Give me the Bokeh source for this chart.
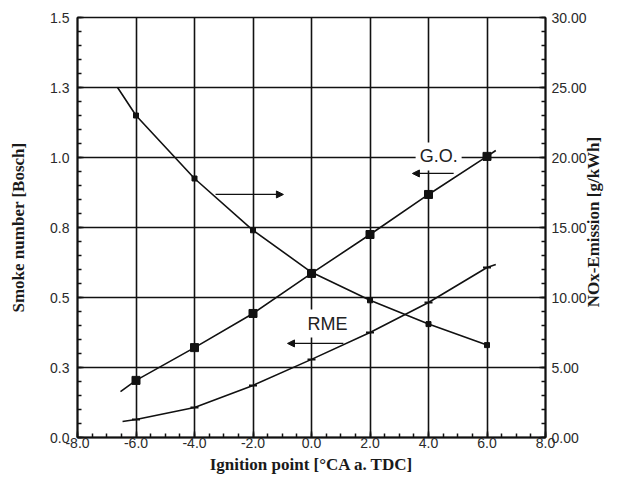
import math
import numpy as np
from bokeh.plotting import figure
from bokeh.models import (Range1d, LinearAxis, FixedTicker, Arrow, NormalHead, Label,
                          PrintfTickFormatter)
from bokeh.embed import file_html
from bokeh.resources import INLINE

# ---- data ----
ignition = [-6.0, -4.0, -2.0, 0.0, 2.0, 4.0, 6.0]
go_smoke = [0.204, 0.321, 0.443, 0.586, 0.725, 0.868, 1.004]
rme_smoke = [0.064, 0.107, 0.186, 0.279, 0.375, 0.482, 0.607]
nox = [23.0, 18.5, 14.8, 11.8, 9.8, 8.1, 6.6]

# curve extents (the drawn curves run a little past the measured points)
go_line_x = [-6.53, -6.0, -4.0, -2.0, 0.0, 2.0, 4.0, 6.0, 6.3]
go_line_y = [0.164, 0.204, 0.321, 0.443, 0.586, 0.725, 0.868, 1.004, 1.025]
rme_line_x = [-6.46, -6.0, -4.0, -2.0, 0.0, 2.0, 4.0, 6.0, 6.3]
rme_line_y = [0.057, 0.064, 0.107, 0.186, 0.279, 0.375, 0.482, 0.607, 0.618]
nox_line_x = [-6.63, -6.0, -4.0, -2.0, 0.0, 2.0, 4.0, 6.0]
nox_line_y = [25.0, 23.0, 18.5, 14.8, 11.8, 9.8, 8.1, 6.6]

x_ticks = [-8.0, -6.0, -4.0, -2.0, 0.0, 2.0, 4.0, 6.0, 8.0]
smoke_ticks = [0.0, 0.25, 0.5, 0.75, 1.0, 1.25, 1.5]
smoke_tick_labels = ["0.0", "0.3", "0.5", "0.8", "1.0", "1.3", "1.5"]
nox_ticks = [0.0, 5.0, 10.0, 15.0, 20.0, 25.0, 30.0]

NOX_TITLE = "NOx-Emission [g/kWh]"
NOX_TITLE_START = 9.3   # where the bottom-to-top right-hand title starts (NOx units)

LINE = "#111111"
TICK_FONT = "Liberation Sans"
LABEL_FONT = "Liberation Serif"

p = figure(width=615, height=478, output_backend="svg", toolbar_location=None,
           x_range=Range1d(-8, 8), y_range=Range1d(0, 1.5),
           min_border_left=77, min_border_right=70, min_border_top=17, min_border_bottom=41)
p.background_fill_color = "white"
p.border_fill_color = "white"
p.outline_line_color = LINE
p.outline_line_width = 1.5

p.extra_y_ranges = {"nox": Range1d(0, 30)}

# grids
p.xgrid.ticker = FixedTicker(ticks=x_ticks)
p.ygrid.ticker = FixedTicker(ticks=smoke_ticks)
for g in (p.xgrid, p.ygrid):
    g.grid_line_color = LINE
    g.grid_line_width = 1.6

def style_axis(ax):
    ax.axis_line_color = LINE
    ax.axis_line_width = 2
    ax.major_tick_line_color = LINE
    ax.minor_tick_line_color = LINE
    ax.major_tick_in = 6
    ax.major_tick_out = 0
    ax.minor_tick_in = 4
    ax.minor_tick_out = 0
    ax.major_tick_line_width = 1.5
    ax.minor_tick_line_width = 1.5
    ax.major_label_text_font = TICK_FONT
    ax.major_label_text_font_size = "14px"
    ax.major_label_text_color = "#2a2a2a"
    ax.axis_label_text_font = LABEL_FONT
    ax.axis_label_text_font_style = "bold"
    ax.axis_label_text_font_size = "17px"
    ax.axis_label_text_color = "#1a1a1a"

# x axis
xa = p.xaxis[0]
xa.ticker = FixedTicker(ticks=x_ticks, minor_ticks=list(np.arange(-8, 8.01, 0.5)))
xa.formatter = PrintfTickFormatter(format="%.1f")
xa.axis_label = "Ignition point [°CA a. TDC]"
style_axis(xa)
xa.major_label_standoff = 0
xa.axis_label_standoff = 4

# left axis
ya = p.yaxis[0]
ya.ticker = FixedTicker(ticks=smoke_ticks, minor_ticks=list(np.arange(0, 1.501, 0.05)))
ya.major_label_overrides = {t: s for t, s in zip(smoke_ticks, smoke_tick_labels)}
ya.axis_label = "Smoke number [Bosch]"
style_axis(ya)
ya.major_label_standoff = 8
ya.axis_label_standoff = 19

# right axis (numbers)
ra = LinearAxis(y_range_name="nox",
                ticker=FixedTicker(ticks=nox_ticks, minor_ticks=list(np.arange(0, 30.01, 1.0))),
                formatter=PrintfTickFormatter(format="%.2f"))
style_axis(ra)
ra.major_label_standoff = 6
p.add_layout(ra, "right")

# right axis title, reading bottom-to-top like the reference
ta = LinearAxis(y_range_name="nox", ticker=FixedTicker(ticks=[NOX_TITLE_START], minor_ticks=[]),
                major_label_overrides={NOX_TITLE_START: NOX_TITLE},
                major_label_orientation=math.pi / 2,
                axis_line_color=None, major_tick_line_color=None, minor_tick_line_color=None,
                major_tick_in=0, major_tick_out=0, minor_tick_in=0, minor_tick_out=0,
                major_label_standoff=4,
                major_label_text_font=LABEL_FONT, major_label_text_font_style="bold",
                major_label_text_font_size="17px", major_label_text_color="#1a1a1a")
p.add_layout(ta, "right")

# curves
p.line(go_line_x, go_line_y, line_color=LINE, line_width=1.6)
p.scatter(ignition, go_smoke, marker="square", size=8, color=LINE)

p.line(rme_line_x, rme_line_y, line_color=LINE, line_width=1.6)
p.scatter(ignition, rme_smoke, marker="dash", size=8, line_color=LINE, line_width=2)

p.line(nox_line_x, nox_line_y, line_color=LINE, line_width=1.6, y_range_name="nox")
p.scatter(ignition, nox, marker="square", size=5, color=LINE, y_range_name="nox")

# annotations
p.add_layout(Label(x=3.56, y=1.004, text="G.O.", text_baseline="middle",
                   text_font=TICK_FONT, text_font_size="18px", text_color="#222222",
                   background_fill_color="white", padding=4))
p.add_layout(Label(x=-0.27, y=0.407, text="RME", text_baseline="middle",
                   text_font=TICK_FONT, text_font_size="18px", text_color="#222222",
                   background_fill_color="white", padding=4))

p.add_layout(Arrow(end=NormalHead(size=7, fill_color=LINE, line_color=LINE),
                   x_start=-3.28, y_start=0.868, x_end=-0.96, y_end=0.868,
                   line_color=LINE, line_width=1.2))
p.add_layout(Arrow(end=NormalHead(size=7, fill_color=LINE, line_color=LINE),
                   x_start=4.86, y_start=0.943, x_end=3.45, y_end=0.943,
                   line_color=LINE, line_width=1.2))
p.add_layout(Arrow(end=NormalHead(size=7, fill_color=LINE, line_color=LINE),
                   x_start=1.09, y_start=0.336, x_end=-0.82, y_end=0.336,
                   line_color=LINE, line_width=1.2))

open("out.html", "w").write(file_html(p, INLINE))
